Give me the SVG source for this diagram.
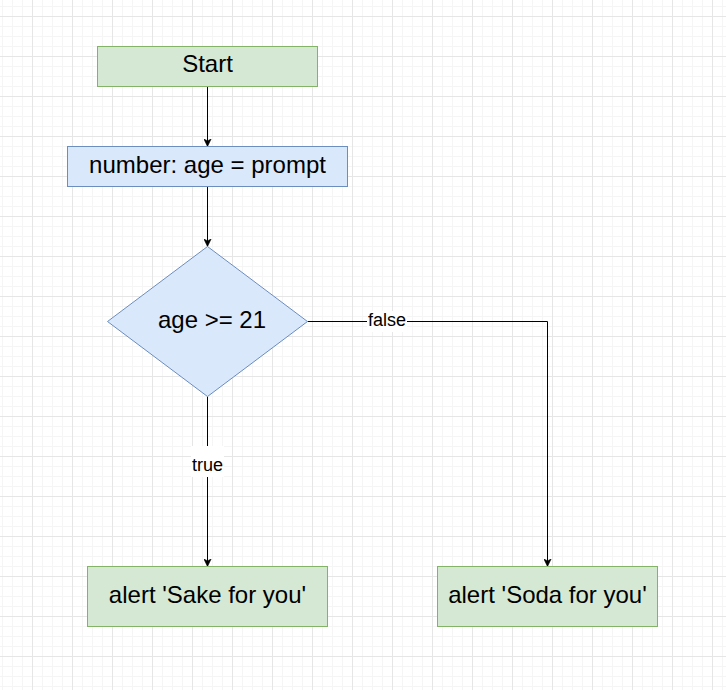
<svg xmlns="http://www.w3.org/2000/svg" width="726" height="690" viewBox="0 0 726 690">
  <style>
    .grn { fill: #d5e8d4; stroke: #82b366; stroke-width: 1; }
    .blu { fill: #dae8fc; stroke: #6c8ebf; stroke-width: 1; }
    .node-text { font-family: "Liberation Sans", Arial, Helvetica, sans-serif; font-size: 24px; fill: #000000; text-anchor: middle; }
    .edge-label { font-family: "Liberation Sans", Arial, Helvetica, sans-serif; font-size: 18px; fill: #000000; text-anchor: middle; }
    .edge { fill: none; stroke: #000000; stroke-width: 1; }
    .label-bg { fill: #ffffff; stroke: none; }
  </style>
  <defs>
    <pattern id="gridMinor" x="2" y="6" width="10" height="10" patternUnits="userSpaceOnUse">
      <path d="M0.5 0 V10 M0 0.5 H10" fill="none" stroke="#f5f5f5" stroke-width="1"/>
    </pattern>
    <pattern id="gridMajor" x="32" y="16" width="40" height="40" patternUnits="userSpaceOnUse">
      <path d="M0.5 0 V40 M0 0.5 H40" fill="none" stroke="#e6e6e6" stroke-width="1"/>
    </pattern>
    <marker id="arrow" viewBox="0 0 8 8" refX="8" refY="4" markerWidth="8" markerHeight="8" orient="auto" markerUnits="userSpaceOnUse">
      <path d="M8,4 L0.5,0.4 L2.4,4 L0.5,7.6 Z" fill="#000000" stroke="#000000" stroke-width="0.6"/>
    </marker>
  </defs>

  <rect x="0" y="0" width="726" height="690" fill="#ffffff"/>
  <rect x="0" y="0" width="726" height="690" fill="url(#gridMinor)"/>
  <rect x="0" y="0" width="726" height="690" fill="url(#gridMajor)"/>

  <g id="connectors">
    <path class="edge" d="M207.5 86.5 V146.5" marker-end="url(#arrow)"/>
    <path class="edge" d="M207.5 186.5 V246.5" marker-end="url(#arrow)"/>
    <path class="edge" d="M207.5 396.5 V566.5" marker-end="url(#arrow)"/>
    <path class="edge" d="M307.5 321.5 H547.5 V566.5" marker-end="url(#arrow)"/>
    <rect class="label-bg" x="191" y="446" width="33" height="31"/>
    <text class="edge-label" x="207.5" y="471">true</text>
    <rect class="label-bg" x="367" y="311" width="40" height="21"/>
    <text class="edge-label" x="387" y="326">false</text>
  </g>

  <g id="start">
    <rect class="grn" x="97.5" y="46.5" width="220" height="40"/>
    <text class="node-text" x="207.5" y="72">Start</text>
  </g>

  <g id="input">
    <rect class="blu" x="67.5" y="146.5" width="280" height="40"/>
    <text class="node-text" x="207.5" y="173">number: age = prompt</text>
  </g>

  <g id="decision">
    <polygon class="blu" points="207.5,246.5 307.5,321.5 207.5,396.5 107.5,321.5"/>
    <text class="node-text" x="212" y="328">age &gt;= 21</text>
  </g>

  <g id="sake">
    <rect class="grn" x="87.5" y="566.5" width="240" height="60"/>
    <text class="node-text" x="207.5" y="603">alert 'Sake for you'</text>
  </g>

  <g id="soda">
    <rect class="grn" x="437.5" y="566.5" width="220" height="60"/>
    <text class="node-text" x="547.5" y="602.5">alert 'Soda for you'</text>
  </g>
</svg>
